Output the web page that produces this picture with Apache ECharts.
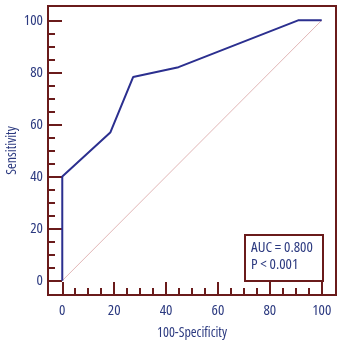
<!DOCTYPE html>
<html>
<head>
<meta charset="utf-8">
<script src="https://cdn.jsdelivr.net/npm/echarts@6/dist/echarts.min.js"></script>
<style>
  html, body { margin: 0; padding: 0; background: #fff; }
  #chart { width: 344px; height: 344px; }
</style>
</head>
<body>
<div id="chart"></div>
<script>
// ROC curve points (100-Specificity, Sensitivity)
const fpr = [0, 0, 18.5, 27.3, 44.8, 90.9, 100];
const tpr = [0, 40, 56.9, 78.2, 82, 100, 100];
// Chance diagonal
const chanceX = [0, 100];
const chanceY = [0, 100];
// Tick positions
const majorTicks = [0, 20, 40, 60, 80, 100];
const minorTicks = [5, 10, 15, 25, 30, 35, 45, 50, 55, 65, 70, 75, 85, 90, 95];
const statLines = ['AUC = 0.800', 'P < 0.001'];

const frame = '#6a1b1b';
const ink = '#2c3a80';
const curve = '#2b2f8f';
const family = "'Open Sans', sans-serif";
const narrow = 'condensed';

const chart = echarts.init(document.getElementById('chart'), null, { renderer: 'canvas' });

function valueAxis(dim, major) {
  const isX = dim === 'x';
  return {
    type: 'value',
    position: isX ? 'bottom' : 'left',
    min: -5.5,
    max: 105.5,
    name: major ? (isX ? '100-Specificity' : 'Sensitivity') : '',
    nameLocation: 'middle',
    nameMoveOverlap: false,
    nameGap: isX ? 31 : 29,
    nameTextStyle: { color: ink, fontFamily: family, fontStyle: narrow, fontSize: 14 },
    axisLine: { show: major, onZero: false, lineStyle: { color: frame, width: 2 } },
    axisTick: {
      show: true,
      inside: true,
      length: major ? (isX ? 13 : 14) : 7,
      customValues: major ? majorTicks : minorTicks,
      lineStyle: { color: frame, width: 2 }
    },
    axisLabel: {
      show: major,
      customValues: majorTicks,
      color: ink,
      fontFamily: family,
      fontStyle: narrow,
      fontSize: 15,
      margin: isX ? 8 : 5
    },
    splitLine: { show: false }
  };
}

chart.setOption({
  animation: false,
  backgroundColor: '#fff',
  grid: {
    left: 48, right: 8, top: 6, bottom: 49,
    containLabel: false,
    outerBoundsMode: 'none',
    show: true, borderColor: frame, borderWidth: 2, backgroundColor: 'transparent'
  },
  xAxis: [valueAxis('x', true), valueAxis('x', false)],
  yAxis: [valueAxis('y', true), valueAxis('y', false)],
  series: [
    {
      type: 'line',
      data: chanceX.map((x, i) => [x, chanceY[i]]),
      symbol: 'none',
      lineStyle: { color: '#d9a3a3', width: 0.8 },
      z: 1
    },
    {
      type: 'line',
      data: fpr.map((x, i) => [x, tpr[i]]),
      symbol: 'none',
      lineStyle: { color: curve, width: 2 },
      z: 2
    }
  ],
  graphic: [
    {
      type: 'rect',
      left: 244, top: 234,
      shape: { width: 78, height: 46 },
      style: { fill: '#fff', stroke: frame, lineWidth: 2 },
      z: 10
    },
    {
      type: 'text',
      left: 251, top: 240,
      style: { text: statLines[0], fill: ink, font: narrow + ' 15px ' + family },
      z: 11
    },
    {
      type: 'text',
      left: 251, top: 257,
      style: { text: statLines[1], fill: ink, font: narrow + ' 15px ' + family },
      z: 11
    }
  ]
});
</script>
</body>
</html>
